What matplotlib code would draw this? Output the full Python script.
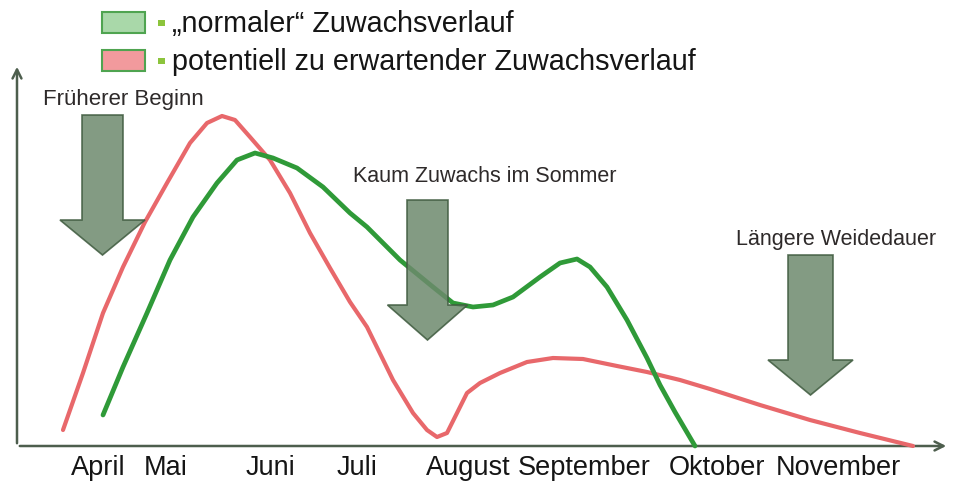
import matplotlib
matplotlib.use("Agg")
import matplotlib.pyplot as plt
from matplotlib.patches import FancyArrow, Rectangle

plt.rcParams['font.family'] = ['Liberation Sans', 'DejaVu Sans']

# Zeitachse (beliebige Einheiten) und Zuwachs (beliebige Einheiten)
normal_x = [86, 106, 130, 153, 176, 200, 220, 238, 256, 280, 306, 333, 350, 383,
            416, 436, 456, 476, 496, 523, 543, 560, 573, 590, 610, 630, 643, 658, 678]
normal_y = [31, 79, 133, 186, 229, 263, 286, 293, 288, 278, 259, 233, 219, 186,
            159, 143, 139, 141, 149, 169, 183, 187, 179, 159, 126, 88, 61, 34, 0]

erwartet_x = [46, 66, 86, 106, 128, 150, 173, 190, 205, 218, 233, 253, 273, 293,
              313, 333, 350, 376, 396, 410, 420, 430, 440, 450, 463, 483, 510, 536,
              566, 600, 630, 663, 693, 743, 793, 843, 896]
erwartet_y = [16, 73, 133, 179, 224, 263, 303, 323, 330, 326, 309, 286, 253, 213,
              178, 144, 119, 66, 33, 16, 9, 13, 33, 53, 63, 73, 84, 88,
              87, 80, 74, 66, 57, 41, 26, 13, 0]

monate = ['April', 'Mai', 'Juni', 'Juli', 'August', 'September', 'Oktober', 'November']
monat_pos = [81, 149, 253, 340, 451, 567, 700, 821]

legende = ['\u201enormaler\u201c Zuwachsverlauf', 'potentiell zu erwartender Zuwachsverlauf']

fig = plt.figure(figsize=(9.56, 4.86), dpi=100)
ax = fig.add_axes([0, 0, 1, 1])
ax.set_xlim(-17, 939)
ax.set_ylim(-40, 446)
ax.axis('off')

axis_col = '#4d5e4d'
ax.annotate('', xy=(932, 0), xytext=(0, 0),
            arrowprops=dict(arrowstyle='->', color=axis_col, lw=1.8, mutation_scale=16))
ax.annotate('', xy=(0, 382), xytext=(0, 0),
            arrowprops=dict(arrowstyle='->', color=axis_col, lw=1.8, mutation_scale=16))

ax.plot(erwartet_x, erwartet_y, color='#e8686b', lw=3.0, solid_capstyle='round',
        solid_joinstyle='round', zorder=3)
ax.plot(normal_x, normal_y, color='#2f9a38', lw=3.4, solid_capstyle='round',
        solid_joinstyle='round', zorder=3)

# Blockpfeile mit Beschriftung
pfeile = [(85.5, 331, 41, 85, 'Fr\u00fcherer Beginn', 26, 346, 'left', 16),
          (410.5, 246, 41, 80, 'Kaum Zuwachs im Sommer', 468, 269, 'center', 15.5),
          (793.5, 191, 45, 85, 'L\u00e4ngere Weidedauer', 819, 206, 'center', 15.5)]
for x, y, w, hw, txt, tx, ty, ha, fs in pfeile:
    ax.add_patch(FancyArrow(x, y, 0, -140, width=w, head_width=hw, head_length=35,
                            length_includes_head=True, facecolor='#6d8a6d',
                            edgecolor='#3e5a3e', lw=1.2, alpha=0.85, zorder=4))
    ax.text(tx, ty, txt, fontsize=fs, color='#2e2a2a', ha=ha, va='center', zorder=5)

for lbl, pos in zip(monate, monat_pos):
    ax.text(pos, -22, lbl, fontsize=19.5, color='#151515', ha='center', va='center')

# Legende
for (face, edge), yb, txt in zip([('#a9d8a9', '#4fa450'), ('#f29a9d', '#4fa450')],
                                 [413, 375], legende):
    ax.add_patch(Rectangle((85, yb), 43, 21, facecolor=face, edgecolor=edge, lw=1.5))
    ax.add_patch(Rectangle((141, yb + 7), 7, 6, facecolor='#8cc43c', edgecolor='none'))
    ax.text(155, yb + 9, txt, fontsize=20.7, color='#151515', ha='left', va='center')

fig.savefig('out.png', dpi=100)
